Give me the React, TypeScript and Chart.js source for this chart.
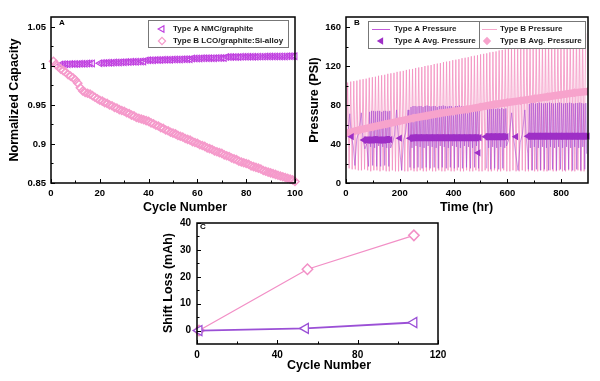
import React, { useEffect, useRef } from "react";
import { Chart, registerables } from "chart.js";

Chart.register(...registerables);

const FONT = "'Liberation Sans', Arial, Helvetica, sans-serif";

// ---------------- Panel A : normalized capacity ----------------
const capacityCycles = [
  1, 2, 3, 4, 5, 6, 7, 8, 9, 10,
  11, 12, 13, 14, 15, 16, 17, 18, 19, 20,
  21, 22, 23, 24, 25, 26, 27, 28, 29, 30,
  31, 32, 33, 34, 35, 36, 37, 38, 39, 40,
  41, 42, 43, 44, 45, 46, 47, 48, 49, 50,
  51, 52, 53, 54, 55, 56, 57, 58, 59, 60,
  61, 62, 63, 64, 65, 66, 67, 68, 69, 70,
  71, 72, 73, 74, 75, 76, 77, 78, 79, 80,
  81, 82, 83, 84, 85, 86, 87, 88, 89, 90,
  91, 92, 93, 94, 95, 96, 97, 98, 99, 100,
];
const typeACapacity = [
  null, null, null, 1.002, 1.0021, 1.0022, 1.0023, 1.0024, 1.0025, 1.0026,
  1.0027, 1.0028, 1.0029, 1.003, 1.0031, 1.0032, 1.0033, null, null, 1.0036,
  1.0037, 1.0039, 1.004, 1.0041, 1.0042, 1.0044, 1.0045, 1.0046, 1.0047, 1.0049,
  1.005, 1.0051, 1.0053, 1.0054, 1.0055, 1.0056, 1.0057, 1.0058, 1.0072, 1.0073,
  1.0074, 1.0075, 1.0076, 1.0077, 1.0078, 1.0079, 1.008, 1.008, 1.0081, 1.0082,
  1.0083, 1.0083, 1.0084, 1.0085, 1.0086, 1.0086, 1.0087, 1.0096, 1.0096, 1.0097,
  1.0097, 1.0098, 1.0098, 1.0099, 1.0099, 1.01, 1.01, 1.0101, 1.0101, 1.0102,
  1.0102, 1.0114, 1.0114, 1.0115, 1.0115, 1.0116, 1.0116, 1.0117, 1.0117, 1.0118,
  1.0118, 1.0118, 1.0119, 1.0119, 1.012, 1.012, 1.012, 1.0121, 1.0121, 1.0121,
  1.0122, 1.0122, 1.0122, 1.0123, 1.0123, 1.0123, 1.0124, 1.0124, 1.0124, 1.0125,
];
const typeBCapacity = [
  1.006, 1.002, 0.999, 0.996, 0.994, 0.992, 0.989, 0.987, 0.985, 0.982,
  0.978, 0.972, 0.968, 0.966, 0.965, 0.964, 0.962, 0.96, 0.958, 0.956,
  0.955, 0.953, 0.952, 0.95, 0.949, 0.947, 0.946, 0.944, 0.943, 0.942,
  0.94, 0.939, 0.937, 0.936, 0.934, 0.933, 0.932, 0.931, 0.93, 0.929,
  0.927, 0.926, 0.924, 0.923, 0.921, 0.92, 0.918, 0.917, 0.915, 0.914,
  0.913, 0.911, 0.91, 0.909, 0.907, 0.906, 0.905, 0.903, 0.902, 0.901,
  0.899, 0.898, 0.897, 0.895, 0.894, 0.893, 0.891, 0.89, 0.889, 0.888,
  0.886, 0.885, 0.884, 0.882, 0.881, 0.88, 0.878, 0.877, 0.876, 0.875,
  0.874, 0.872, 0.871, 0.87, 0.869, 0.868, 0.866, 0.865, 0.864, 0.863,
  0.862, 0.861, 0.86, 0.859, 0.858, 0.857, 0.856, 0.855, 0.854, 0.852,
];
const capXTicks = [0, 20, 40, 60, 80, 100];
const capXMinor = [10, 30, 50, 70, 90];
const capYTicks = [0.85, 0.9, 0.95, 1, 1.05];
const capYMinor = [0.875, 0.925, 0.975, 1.025];

// ---------------- Panel B : pressure vs time ----------------
const typeBCycleStart = [
  0, 11.5, 23, 34.5, 46, 57.5, 69, 80.5, 92, 103.5,
  115, 126.5, 138, 149.5, 161, 172.5, 184, 195.5, 207, 218.5,
  230, 241.5, 253, 264.5, 276, 287.5, 299, 310.5, 322, 333.5,
  345, 356.5, 368, 379.5, 391, 402.5, 414, 425.5, 437, 448.5,
  460, 471.5, 483, 494.5, 506, 517.5, 529, 540.5, 552, 563.5,
  575, 586.5, 598, 609.5, 621, 632.5, 644, 655.5, 667, 678.5,
  690, 701.5, 713, 724.5, 736, 747.5, 759, 770.5, 782, 793.5,
  805, 816.5, 828, 839.5, 851, 862.5, 874, 885.5,
];
const typeBCyclePeak = [
  103, 104, 104.5, 105, 106, 106.5, 107, 108, 108.5, 109,
  110, 110.5, 111, 112, 112.5, 113, 114, 114.5, 115, 116,
  116.5, 117, 118, 118.5, 119, 120, 120.5, 121, 122, 122.5,
  123, 124, 124.5, 125, 126, 126.5, 127, 128, 128.5, 129,
  130, 130.5, 131, 132, 132.5, 133, 134, 134.5, 135, 136,
  136.5, 137, 138, 138.5, 139, 140, 140.5, 141, 142, 142.5,
  143, 144, 144.5, 145, 146, 146.5, 147, 148, 148.5, 149,
  150, 150.5, 151, 151.5, 152, 152.5, 153, 153.5,
];
const typeBCycleTrough = [
  16, 15, 14, 14, 13, 13, 14, 13, 12, 13,
  13, 12, 13, 12, 12, 13, 12, 12, 13, 12,
  12, 13, 12, 12, 13, 12, 12, 13, 12, 12,
  13, 12, 12, 13, 12, 12, 13, 12, 12, 13,
  12, 12, 13, 12, 12, 13, 12, 12, 13, 12,
  12, 13, 12, 12, 13, 12, 12, 13, 12, 12,
  13, 12, 12, 13, 12, 12, 13, 12, 12, 13,
  12, 12, 13, 12, 12, 13, 12, 12,
];
const typeBPeakOffset = 6;

const typeACycleStart = [
  84, 91.5, 99, 106.5, 114, 121.5, 129, 136.5, 144, 151.5, 159,
  238, 245.5, 253, 260.5, 268, 275.5, 283, 290.5, 298, 305.5,
  313, 320.5, 328, 335.5, 343, 350.5, 358, 365.5, 373, 380.5,
  388, 395.5, 403, 410.5, 418, 425.5, 433, 440.5, 448, 455.5,
  463, 470.5, 478, 485.5, 493,
  523, 530.5, 538, 545.5, 553, 560.5, 568, 575.5, 583, 590.5,
  678, 685.5, 693, 700.5, 708, 715.5, 723, 730.5, 738, 745.5,
  753, 760.5, 768, 775.5, 783, 790.5, 798, 805.5, 813, 820.5,
  828, 835.5, 843, 850.5, 858, 865.5, 873, 880.5, 888,
];
const typeACyclePeak = [
  73, 74, 74, 73.5, 74, 74, 73, 74, 74, 73.5, 74,
  78, 79, 79, 78.5, 79, 79, 78, 79, 79.5, 79,
  78.5, 79, 79, 78, 79, 79, 79.5, 79, 78.5, 79,
  79, 78, 79, 79, 79.5, 79, 78.5, 79, 79, 78,
  79, 79, 79.5, 79, 78.5,
  76, 76.5, 76, 77, 76, 76.5, 76, 77, 76, 76.5,
  81, 82, 82, 81.5, 82, 82.5, 82, 81.5, 82, 82,
  82.5, 82, 81.5, 82, 82, 82.5, 82, 81.5, 82, 82,
  82.5, 82, 81.5, 82, 82, 82.5, 82, 81.5, 82,
];
const typeACycleTrough = [
  17, 37, 18, 36, 17, 38, 17, 37, 18, 36, 17,
  16, 36, 15, 38, 16, 37, 15, 36, 16, 38,
  15, 37, 16, 36, 15, 38, 16, 37, 15, 36,
  16, 38, 15, 37, 16, 36, 15, 38, 16, 37,
  15, 36, 16, 38, 15,
  15, 36, 14, 37, 15, 36, 14, 37, 15, 36,
  14, 36, 13, 37, 14, 36, 13, 37, 14, 36,
  13, 37, 14, 36, 13, 37, 14, 36, 13, 37,
  14, 36, 13, 37, 14, 36, 13, 37, 14,
];
const typeAPeakOffset = 3.75;
const typeAGapTime = [
  0, 7, 14, 20, 27, 33, 40, 48, 57, 63, 70, 77,
  166, 174, 181, 188, 195, 201, 207, 214, 222, 231, 234,
  510,
  597, 606, 616, 624, 632, 640, 648, 656, 665, 671, 676,
  895,
];
const typeAGapPressure = [
  45, 50, 71, 48, 38, 18, 45, 52, 72, 46, 35, 40,
  36, 42, 50, 75, 46, 30, 13, 44, 52, 75, 48,
  null,
  38, 45, 72, 45, 28, 13, 42, 50, 75, 45, 30,
  30,
];
const typeAAvgTime = [
  21, 40, 66, 80, 95, 110, 125, 140, 155, 164, 180, 200, 220,
  238, 255, 275, 295, 315, 335, 355, 375, 395, 415, 435, 455, 475, 496, 497,
  492, 505, 519, 535, 550, 565, 580, 596, 615, 632, 650,
  676, 695, 715, 735, 755, 775, 795, 815, 835, 855, 875, 898,
];
const typeAAvgPressure = [
  47.5, null, 44, 44, 44, 44.5, 44, 44, 44.5, 44.5, null, 46, null,
  46, 46.5, 46.5, 46.5, 46.5, 46.5, 46.5, 46.5, 46.5, 46.5, 46.5, 46.5, 46.5, 46.5, null,
  31, null, 47.5, 47.5, 47.5, 47.5, 47.5, 47.5, null, 47.5, null,
  48, 48, 48, 48, 48, 48, 48, 48, 48, 48, 48, 48,
];
const typeBAvgTime = [0, 50, 100, 150, 200, 250, 300, 350, 400, 450, 500, 550, 600, 650, 700, 750, 800, 850, 900];
const typeBAvgPressure = [51, 54.5, 57.5, 60.5, 63.5, 66.5, 69, 71.5, 73.5, 75.5, 78, 80.5, 82.5, 84.5, 86.5, 88.5, 90.5, 92.5, 94];
const presXTicks = [0, 200, 400, 600, 800];
const presXMinor = [100, 300, 500, 700];
const presYTicks = [0, 40, 80, 120, 160];
const presYMinor = [20, 60, 100, 140];

// ---------------- Panel C : shift loss ----------------
const shiftCyclesA = [1, 54, 108];
const shiftLossA = [0, 0.8, 3.0];
const shiftCyclesB = [1, 55, 108];
const shiftLossB = [0, 22.8, 35.4];
const shiftXTicks = [0, 40, 80, 120];
const shiftXMinor = [20, 60, 100];
const shiftYTicks = [0, 10, 20, 30, 40];
const shiftYMinor = [5, 15, 25, 35];

// ---------------- colours ----------------
const PURPLE = "#c040e0";
const PINK = "#f59acb";
const A_AVG = "#9e2fc6";
const B_AVG = "#f7a3cc";
const A_PRES = "rgba(165, 70, 210, 0.62)";
const B_PRES = "rgba(243, 140, 190, 0.85)";
const C_PURPLE = "#9b50d6";
const C_PINK = "#f28fc6";

// ---------------- helpers ----------------
function pts(xs: number[], ys: (number | null)[]) {
  return xs.map((x, i) => ({ x, y: ys[i] }));
}

function linearAxis(o: {
  min: number; max: number; ticks: number[]; size: number; pad: number; fontSize: number; horizontal: boolean;
}) {
  return {
    type: "linear",
    min: o.min,
    max: o.max,
    afterBuildTicks: (s: any) => {
      s.ticks = o.ticks.map((v) => ({ value: v }));
    },
    afterFit: (s: any) => {
      if (o.horizontal) s.height = o.size;
      else s.width = o.size;
      s.paddingLeft = 0;
      s.paddingRight = 0;
      s.paddingTop = 0;
      s.paddingBottom = 0;
    },
    grid: { display: false, drawTicks: false, tickLength: 0 },
    border: { display: false },
    ticks: {
      autoSkip: false,
      maxRotation: 0,
      minRotation: 0,
      padding: o.pad,
      color: "#000",
      font: { family: FONT, size: o.fontSize, weight: "bold" },
      callback: (v: number) => String(v),
    },
  };
}

function triLeft(ctx: CanvasRenderingContext2D, x: number, y: number, r: number) {
  ctx.beginPath();
  ctx.moveTo(x - r, y);
  ctx.lineTo(x + r / 2, y - r * 0.866);
  ctx.lineTo(x + r / 2, y + r * 0.866);
  ctx.closePath();
}
function diamond(ctx: CanvasRenderingContext2D, x: number, y: number, r: number) {
  ctx.beginPath();
  ctx.moveTo(x, y - r);
  ctx.lineTo(x + r, y);
  ctx.lineTo(x, y + r);
  ctx.lineTo(x - r, y);
  ctx.closePath();
}

type Decor = {
  xMajor: number[]; xMinor: number[]; yMajor: number[]; yMinor: number[];
  xTitle: [string, number, number]; yTitle: [string, number, number];
  panel: [string, number, number];
  legend?: (ctx: CanvasRenderingContext2D) => void;
};

function decorPlugin(d: Decor) {
  return {
    id: "decor",
    afterDraw(chart: any) {
      const { ctx, chartArea: a, scales } = chart;
      const xs = scales.x;
      const ys = scales.y;
      ctx.save();
      ctx.strokeStyle = "#000";
      ctx.lineWidth = 1;
      ctx.beginPath();
      const tx = (vals: number[], len: number) => {
        vals.forEach((v) => {
          const p = Math.round(xs.getPixelForValue(v)) + 0.5;
          ctx.moveTo(p, a.bottom);
          ctx.lineTo(p, a.bottom - len);
        });
      };
      const ty = (vals: number[], len: number) => {
        vals.forEach((v) => {
          const p = Math.round(ys.getPixelForValue(v)) + 0.5;
          ctx.moveTo(a.left, p);
          ctx.lineTo(a.left + len, p);
        });
      };
      tx(d.xMajor, 4);
      tx(d.xMinor, 2.5);
      ty(d.yMajor, 4);
      ty(d.yMinor, 2.5);
      ctx.stroke();
      ctx.lineWidth = 1.5;
      ctx.strokeRect(a.left, a.top, a.right - a.left, a.bottom - a.top);
      if (d.legend) d.legend(ctx);
      ctx.fillStyle = "#000";
      ctx.textAlign = "center";
      ctx.textBaseline = "middle";
      ctx.font = `bold 12.5px ${FONT}`;
      ctx.fillText(d.xTitle[0], d.xTitle[1], d.xTitle[2]);
      ctx.save();
      ctx.translate(d.yTitle[1], d.yTitle[2]);
      ctx.rotate(-Math.PI / 2);
      ctx.fillText(d.yTitle[0], 0, 0);
      ctx.restore();
      ctx.font = `bold 8px ${FONT}`;
      ctx.fillText(d.panel[0], d.panel[1], d.panel[2]);
      ctx.restore();
    },
  };
}

function legendBox(ctx: CanvasRenderingContext2D, x: number, y: number, w: number, h: number) {
  ctx.fillStyle = "#fff";
  ctx.fillRect(x, y, w, h);
  ctx.strokeStyle = "#777";
  ctx.lineWidth = 1;
  ctx.strokeRect(x + 0.5, y + 0.5, w, h);
}
function legendText(ctx: CanvasRenderingContext2D, t: string, x: number, y: number) {
  ctx.fillStyle = "#1a1a1a";
  ctx.font = `bold 8px ${FONT}`;
  ctx.textAlign = "left";
  ctx.textBaseline = "middle";
  ctx.fillText(t, x, y);
}

// ---------------- chart configs ----------------
function makeCapacity() {
  return {
    type: "scatter",
    data: {
      datasets: [
        {
          label: "Type B LCO/graphite:Si-alloy",
          data: pts(capacityCycles, typeBCapacity),
          showLine: false,
          pointStyle: "rectRot",
          pointRadius: 4,
          pointBorderWidth: 1.5,
          pointBorderColor: PINK,
          pointBackgroundColor: "rgba(0,0,0,0)",
          clip: false,
        },
        {
          label: "Type A NMC/graphite",
          data: pts(capacityCycles, typeACapacity),
          showLine: false,
          pointStyle: "triangle",
          pointRotation: -90,
          pointRadius: 3.8,
          pointBorderWidth: 1.1,
          pointBorderColor: PURPLE,
          pointBackgroundColor: "rgba(0,0,0,0)",
          clip: false,
        },
      ],
    },
    options: {
      responsive: false,
      animation: false,
      events: [],
      layout: { padding: { left: 0, top: 17, right: 15, bottom: 0 } },
      plugins: { legend: { display: false }, tooltip: { enabled: false } },
      scales: {
        x: linearAxis({ min: 0, max: 100, ticks: capXTicks, size: 32, pad: 5, fontSize: 9.5, horizontal: true }),
        y: linearAxis({ min: 0.85, max: 1.0628, ticks: capYTicks, size: 51, pad: 5, fontSize: 9.5, horizontal: false }),
      },
    },
    plugins: [
      decorPlugin({
        xMajor: capXTicks, xMinor: capXMinor, yMajor: capYTicks, yMinor: capYMinor,
        xTitle: ["Cycle Number", 185, 208],
        yTitle: ["Normalized Capacity", 15, 100],
        panel: ["A", 62, 23],
        legend: (ctx) => {
          legendBox(ctx, 148, 20, 140, 27);
          ctx.strokeStyle = PURPLE;
          ctx.lineWidth = 1.2;
          triLeft(ctx, 162, 29, 3.8);
          ctx.stroke();
          ctx.strokeStyle = PINK;
          diamond(ctx, 162, 41, 3.6);
          ctx.stroke();
          legendText(ctx, "Type A NMC/graphite", 173, 29);
          legendText(ctx, "Type B LCO/graphite:Si-alloy", 173, 41);
        },
      }),
    ],
  };
}

function makePressure() {
  const bPressure: { x: number; y: number | null }[] = [];
  typeBCycleStart.forEach((t, i) => {
    bPressure.push({ x: t, y: typeBCycleTrough[i] });
    bPressure.push({ x: t + typeBPeakOffset, y: typeBCyclePeak[i] });
  });
  const aPressure: { x: number; y: number | null }[] = pts(typeAGapTime, typeAGapPressure);
  typeACycleStart.forEach((t, i) => {
    aPressure.push({ x: t, y: typeACycleTrough[i] });
    aPressure.push({ x: t + typeAPeakOffset, y: typeACyclePeak[i] });
  });
  aPressure.sort((p, q) => p.x - q.x);

  return {
    type: "scatter",
    data: {
      datasets: [
        {
          label: "Type A Avg. Pressure",
          data: pts(typeAAvgTime, typeAAvgPressure),
          showLine: true,
          spanGaps: false,
          borderColor: A_AVG,
          borderWidth: 7,
          pointStyle: "triangle",
          pointRotation: -90,
          pointRadius: 4.2,
          pointBorderWidth: 0,
          pointBackgroundColor: A_AVG,
          order: 0,
          clip: false,
        },
        {
          label: "Type B Avg. Pressure",
          data: pts(typeBAvgTime, typeBAvgPressure),
          showLine: true,
          borderColor: B_AVG,
          borderWidth: 7.5,
          pointStyle: "rectRot",
          pointRadius: 4.5,
          pointBorderWidth: 0,
          pointBackgroundColor: B_AVG,
          order: 1,
        },
        {
          label: "Type A Pressure",
          data: aPressure,
          showLine: true,
          spanGaps: false,
          borderColor: A_PRES,
          borderWidth: 0.9,
          pointRadius: 0,
          order: 2,
        },
        {
          label: "Type B Pressure",
          data: bPressure,
          showLine: true,
          borderColor: B_PRES,
          borderWidth: 0.9,
          pointRadius: 0,
          order: 3,
        },
      ],
    },
    options: {
      responsive: false,
      animation: false,
      events: [],
      layout: { padding: { left: 0, top: 17, right: 12, bottom: 0 } },
      plugins: { legend: { display: false }, tooltip: { enabled: false } },
      scales: {
        x: linearAxis({ min: 0, max: 900, ticks: presXTicks, size: 32, pad: 5, fontSize: 9.5, horizontal: true }),
        y: linearAxis({ min: 0, max: 170.3, ticks: presYTicks, size: 46, pad: 5, fontSize: 9.5, horizontal: false }),
      },
    },
    plugins: [
      decorPlugin({
        xMajor: presXTicks, xMinor: presXMinor, yMajor: presYTicks, yMinor: presYMinor,
        xTitle: ["Time (hr)", 166.5, 208],
        yTitle: ["Pressure (PSI)", 15, 100],
        panel: ["B", 57, 23],
        legend: (ctx) => {
          legendBox(ctx, 68, 21, 217, 27);
          ctx.strokeStyle = "#777";
          ctx.beginPath();
          ctx.moveTo(179.5, 21);
          ctx.lineTo(179.5, 48);
          ctx.stroke();
          ctx.lineWidth = 1;
          ctx.strokeStyle = "#c25ad9";
          ctx.beginPath();
          ctx.moveTo(72, 29.5);
          ctx.lineTo(90, 29.5);
          ctx.stroke();
          ctx.strokeStyle = "#f6a8cc";
          ctx.beginPath();
          ctx.moveTo(182, 29.5);
          ctx.lineTo(197, 29.5);
          ctx.stroke();
          ctx.fillStyle = A_AVG;
          triLeft(ctx, 81, 41, 4.2);
          ctx.fill();
          ctx.fillStyle = B_AVG;
          diamond(ctx, 187, 41, 4.2);
          ctx.fill();
          legendText(ctx, "Type A Pressure", 94, 29);
          legendText(ctx, "Type A Avg. Pressure", 94, 41);
          legendText(ctx, "Type B Pressure", 200, 29);
          legendText(ctx, "Type B Avg. Pressure", 200, 41);
        },
      }),
    ],
  };
}

function makeShift() {
  return {
    type: "scatter",
    data: {
      datasets: [
        {
          label: "Type A",
          data: pts(shiftCyclesA, shiftLossA),
          showLine: true,
          borderColor: C_PURPLE,
          borderWidth: 1.8,
          pointStyle: "triangle",
          pointRotation: -90,
          pointRadius: 5.8,
          pointBorderWidth: 1.3,
          pointBorderColor: C_PURPLE,
          pointBackgroundColor: "#fff",
          clip: false,
        },
        {
          label: "Type B",
          data: pts(shiftCyclesB, shiftLossB),
          showLine: true,
          borderColor: C_PINK,
          borderWidth: 1.3,
          pointStyle: "rectRot",
          pointRadius: 5.2,
          pointBorderWidth: 1.5,
          pointBorderColor: C_PINK,
          pointBackgroundColor: "#fff",
          clip: false,
        },
      ],
    },
    options: {
      responsive: false,
      animation: false,
      events: [],
      layout: { padding: { left: 0, top: 18, right: 12, bottom: 0 } },
      plugins: { legend: { display: false }, tooltip: { enabled: false } },
      scales: {
        x: linearAxis({ min: 0, max: 120, ticks: shiftXTicks, size: 37, pad: 5, fontSize: 10, horizontal: true }),
        y: linearAxis({ min: -5, max: 40, ticks: shiftYTicks, size: 57, pad: 6, fontSize: 10, horizontal: false }),
      },
    },
    plugins: [
      decorPlugin({
        xMajor: shiftXTicks, xMinor: shiftXMinor, yMajor: shiftYTicks, yMinor: shiftYMinor,
        xTitle: ["Cycle Number", 189, 161],
        yTitle: ["Shift Loss (mAh)", 29, 78],
        panel: ["C", 63, 22],
      }),
    ],
  };
}

function ChartCanvas(props: { left: number; top: number; width: number; height: number; make: () => any }) {
  const ref = useRef<HTMLCanvasElement>(null);
  useEffect(() => {
    const chart = new Chart(ref.current as HTMLCanvasElement, props.make());
    return () => chart.destroy();
  }, []);
  return (
    <canvas
      ref={ref}
      width={props.width}
      height={props.height}
      style={{ position: "absolute", left: props.left, top: props.top, width: props.width, height: props.height }}
    />
  );
}

export default function App() {
  return (
    <div style={{ position: "absolute", left: 0, top: 0, width: 600, height: 381, background: "#fff", overflow: "hidden" }}>
      <ChartCanvas left={0} top={0} width={310} height={215} make={makeCapacity} />
      <ChartCanvas left={300} top={0} width={300} height={215} make={makePressure} />
      <ChartCanvas left={140} top={205} width={310} height={176} make={makeShift} />
    </div>
  );
}
